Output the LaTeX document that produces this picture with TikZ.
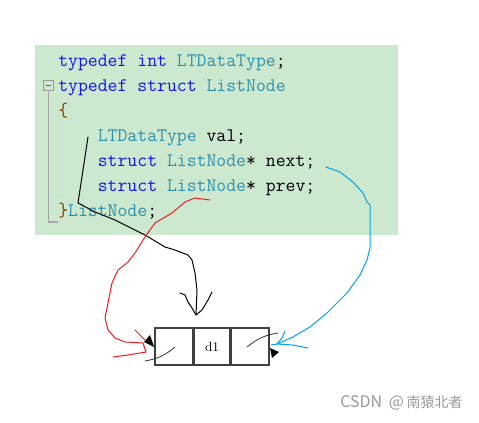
\documentclass[tikz,border=0pt]{standalone}
\usepackage{fontspec}
\usepackage{tikz}
\usetikzlibrary{positioning}
\newfontfamily\cjkfont{Noto Sans CJK SC}
\definecolor{kwblue}{RGB}{20,20,235}
\definecolor{tyteal}{RGB}{43,145,175}
\definecolor{bracebrown}{RGB}{128,64,0}
\definecolor{bggreen}{RGB}{204,232,207}
\definecolor{penred}{RGB}{237,28,36}
\definecolor{penblue}{RGB}{0,162,232}
\newcommand{\kwd}[1]{\textcolor{kwblue}{#1}}
\newcommand{\tyname}[1]{\textcolor{tyteal}{#1}}
\newcommand{\codeind}{\phantom{0000}}

\begin{document}
\begin{tikzpicture}[x=0.75pt, y=-0.75pt, node distance=18.75pt,
  codeline/.style={anchor=base west, inner sep=0pt, font=\ttfamily\fontsize{14.4}{14.4}\selectfont\addfontfeature{FakeBold=0.5}},
  cell/.style={draw=black!75, line width=1.2pt, minimum height=27.75pt, inner sep=0pt},
  pen/.style={line width=0.75pt, line join=round, line cap=round}]
  \useasboundingbox (0,0) rectangle (479,422);
  \fill[bggreen] (35,45) rectangle (398,235);

  % Code lines
  \node[codeline] (l1) at (58,66) {\kwd{typedef} \kwd{int} \tyname{LTDataType};};
  \node[below=of l1.base west, codeline] (l2) {\kwd{typedef} \kwd{struct} \tyname{ListNode}};
  \node[below=of l2.base west, codeline] (l3) {\textcolor{bracebrown}{\{}};
  \node[below=of l3.base west, codeline] (l4) {\codeind\tyname{LTDataType} val;};
  \node[below=of l4.base west, codeline] (l5) {\codeind\kwd{struct} \tyname{ListNode}* next;};
  \node[below=of l5.base west, codeline] (l6) {\codeind\kwd{struct} \tyname{ListNode}* prev;};
  \node[below=of l6.base west, codeline] (l7) {\textcolor{bracebrown}{\}}\tyname{ListNode};};

  % Fold marker
  \node[draw=black!40, line width=0.5pt, minimum size=7.5pt, inner sep=0pt] (fold) at (48.5,85) {};
  \draw[black!60, line width=0.5pt] ([xshift=-2pt]fold.center) -- ([xshift=2pt]fold.center);
  \draw[black!35, line width=1pt] (fold.south) -- (48.5,222) -- (58,222);
  \draw[black!15, dashed, line width=1pt] (61,123) -- (61,197);

  % List node
  \node[cell, minimum width=28.5pt] (prevcell) at (174,346.5) {};
  \node[cell, minimum width=26.25pt, right=0pt of prevcell, font=\fontsize{10}{10}\selectfont] (datacell) {d1};
  \node[cell, minimum width=28.5pt, right=0pt of datacell] (nextcell) {};

  % Pointers
  \draw[black!80, line width=0.6pt] (145,361) to[bend right=15] (175,347);
  \draw[black!80, line width=0.6pt] (247,347) to[bend left=15] (278,333);
  \fill (144,342) -- (150,335) -- (prevcell.west |- 0,347) -- cycle;
  \fill (nextcell.east |- 0,348) -- (279,352) -- (272,358) -- cycle;

  % Hand arrows
  \coordinate (valmark) at (88,137);
  \coordinate (blacktip) at (196,315);
  \draw[pen] (valmark) -- (78,203) -- (95,212) -- (115,220) -- (145,235) -- (165,247)
    -- (175,250) -- (188,255) -- (192,260) -- (195,273) -- (197,290) -- (blacktip);
  \draw[pen] (180,293) -- (185,295) -- (188,302) -- (192,308) -- (blacktip)
    -- (202,310) -- (208,300) -- (212,292);

  \coordinate (prevmark) at (210,200);
  \coordinate (redtip) at (146,352);
  \draw[pen, penred] (prevmark) -- (195,198) -- (185,202) -- (172,213) -- (155,223)
    -- (145,237) -- (135,253) -- (128,262) -- (118,270) -- (112,283) -- (108,303)
    -- (105,318) -- (108,330) -- (115,338) -- (125,342) -- (143,343) -- (redtip);
  \draw[pen, penred] (135,330) -- (141,336) -- (146,341);
  \draw[pen, penred] (113,357) -- (128,355) -- (redtip);

  \coordinate (nextmark) at (326,167);
  \coordinate (bluetip) at (277,344);
  \draw[pen, penblue] (nextmark) -- (340,172) -- (353,182) -- (363,193) -- (367,202)
    -- (370,205) -- (370,248) -- (367,260) -- (360,275) -- (347,293) -- (327,313)
    -- (310,327) -- (293,337) -- (bluetip);
  \draw[pen, penblue] (285,331) -- (282,338) -- (bluetip);
  \draw[pen, penblue] (271,345) -- (bluetip) -- (293,345) -- (308,348);

  % Watermark
  \node[text=black!40, font=\cjkfont\fontsize{10.5}{10.5}\selectfont, anchor=east, inner sep=0pt] (mark) at (463,403)
    {{\fontsize{12}{12}\selectfont CSDN\hspace{5pt}@}\hspace{2pt}南猿北者};
\end{tikzpicture}
\end{document}
